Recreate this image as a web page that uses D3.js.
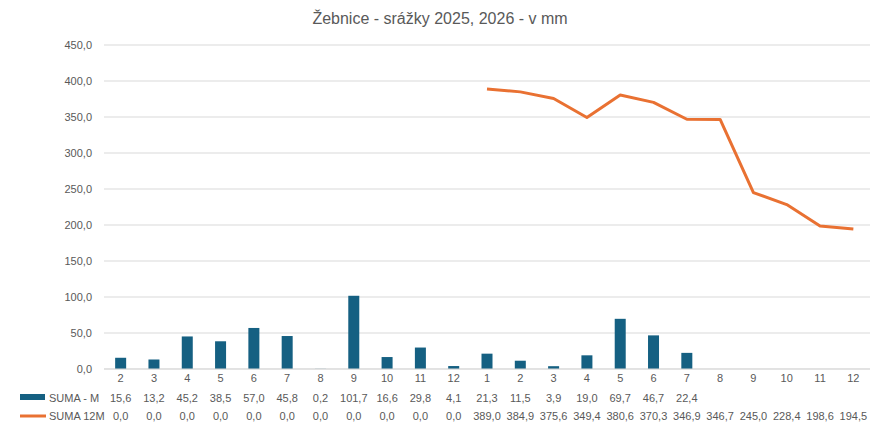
<!DOCTYPE html>
<html>
<head>
<meta charset="utf-8">
<script src="https://cdn.jsdelivr.net/npm/d3@7"></script>
<style>
  body { margin: 0; background: #fff; }
  text { font-family: "Liberation Sans", Arial, sans-serif; fill: #595959; }
</style>
</head>
<body>
<svg id="chart" width="881" height="427"></svg>
<script>
// Category labels (months, 2025 then 2026)
const months = ["2","3","4","5","6","7","8","9","10","11","12","1","2","3","4","5","6","7","8","9","10","11","12"];
// SUMA - M (monthly sum), null where no value
const sumaM = [15.6,13.2,45.2,38.5,57.0,45.8,0.2,101.7,16.6,29.8,4.1,21.3,11.5,3.9,19.0,69.7,46.7,22.4,null,null,null,null,null];
// SUMA 12M (rolling 12 month sum)
const suma12M = [0,0,0,0,0,0,0,0,0,0,0,389.0,384.9,375.6,349.4,380.6,370.3,346.9,346.7,245.0,228.4,198.6,194.5];
const yTicks = [0,50,100,150,200,250,300,350,400,450];

const seriesNames = ["SUMA - M", "SUMA 12M"];
const barColor = "#156082";
const lineColor = "#e97132";

const margin = { top: 45, right: 11, bottom: 58, left: 104 };
const width = 881 - margin.left - margin.right;
const height = 427 - margin.top - margin.bottom;

const svgContainer = d3.select("#chart");
const svg = svgContainer.append("g")
    .attr("transform", "translate(" + margin.left + "," + margin.top + ")");

const idx = months.map((m, i) => i);

const x = d3.scaleBand()
    .domain(idx)
    .range([0, width]);

const y = d3.scaleLinear()
    .domain([0, 450])
    .range([height, 0]);

const fmt = v => d3.format(".1f")(v).replace(".", ",");

// Gridlines
svg.selectAll(".grid")
    .data(yTicks)
    .enter().append("line")
    .attr("x1", 0)
    .attr("x2", width)
    .attr("y1", d => y(d))
    .attr("y2", d => y(d))
    .attr("stroke", "#d9d9d9")
    .attr("stroke-width", 1);

// Y axis labels
svg.selectAll(".ylab")
    .data(yTicks)
    .enter().append("text")
    .attr("x", -12)
    .attr("y", d => y(d))
    .attr("dy", "0.35em")
    .style("text-anchor", "end")
    .style("font-size", "11px")
    .text(d => fmt(d));

// Bars
const barW = 11;
svg.selectAll(".bar")
    .data(sumaM.map((v, i) => ({ i, v })).filter(d => d.v != null))
    .enter().append("rect")
    .attr("class", "bar")
    .attr("x", d => x(d.i) + x.bandwidth() / 2 - barW / 2)
    .attr("y", d => y(d.v))
    .attr("width", barW)
    .attr("height", d => height - y(d.v))
    .attr("fill", barColor);

// Line (only where the rolling sum exists)
const line = d3.line()
    .defined(d => d.v > 0)
    .x(d => x(d.i) + x.bandwidth() / 2)
    .y(d => y(d.v));

svg.append("path")
    .datum(suma12M.map((v, i) => ({ i, v })))
    .attr("fill", "none")
    .attr("stroke", lineColor)
    .attr("stroke-width", 3)
    .attr("stroke-linejoin", "round")
    .attr("d", line);

// Category axis line
svg.append("line")
    .attr("x1", 0).attr("x2", width)
    .attr("y1", height).attr("y2", height)
    .attr("stroke", "#d9d9d9");

// Category labels
svg.selectAll(".xlab")
    .data(idx)
    .enter().append("text")
    .attr("x", d => x(d) + x.bandwidth() / 2)
    .attr("y", height + 13)
    .style("text-anchor", "middle")
    .style("font-size", "11px")
    .text(d => months[d]);

// Data table rows
const rows = [
    { name: seriesNames[0], values: sumaM, y: height + 33 },
    { name: seriesNames[1], values: suma12M, y: height + 51 }
];

rows.forEach((r, k) => {
    svg.selectAll(".row" + k)
        .data(idx)
        .enter().append("text")
        .attr("x", d => x(d) + x.bandwidth() / 2)
        .attr("y", r.y)
        .style("text-anchor", "middle")
        .style("font-size", "11px")
        .text(d => r.values[d] == null ? "" : fmt(r.values[d]));

    svg.append("text")
        .attr("x", -55)
        .attr("y", r.y)
        .style("text-anchor", "start")
        .style("font-size", "11px")
        .text(r.name);
});

// Legend keys
svg.append("rect")
    .attr("x", -84).attr("y", height + 25)
    .attr("width", 25).attr("height", 6)
    .attr("fill", barColor);

svg.append("line")
    .attr("x1", -84).attr("x2", -58)
    .attr("y1", height + 47).attr("y2", height + 47)
    .attr("stroke", lineColor)
    .attr("stroke-width", 3);

// Title
svgContainer.append("text")
    .attr("x", 440)
    .attr("y", 24)
    .style("text-anchor", "middle")
    .style("font-size", "16px")
    .text("Žebnice - srážky 2025, 2026 - v mm");
</script>
</body>
</html>
